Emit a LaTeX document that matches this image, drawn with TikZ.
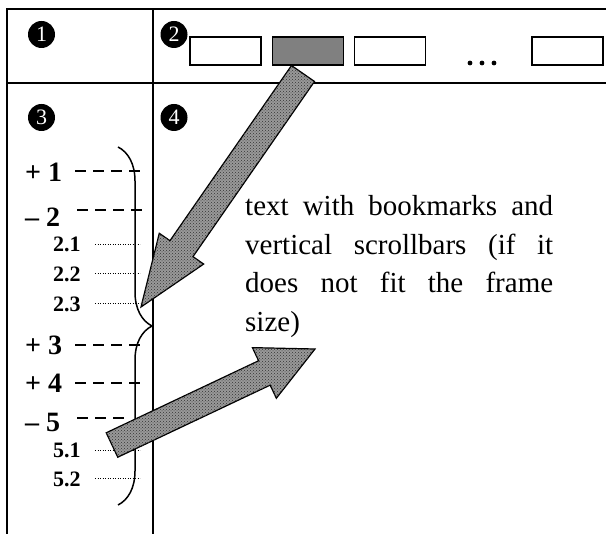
\documentclass[tikz,border=0pt]{standalone}
\usepackage{fontspec}
\setmainfont{Liberation Serif}
\usetikzlibrary{calc,patterns,decorations.pathreplacing}

\tikzset{
  frameline/.style={line width=1.5pt},
  tabbox/.style={draw, line width=1.4pt, minimum width=71pt, minimum height=28pt, inner sep=0pt},
  badge/.style={circle, fill=black, text=white, inner sep=0pt, minimum size=27pt,
                font=\fontsize{22}{22}\selectfont},
  biglabel/.style={anchor=base west, inner sep=0pt, font=\fontsize{28}{28}\selectfont\bfseries},
  smalllabel/.style={anchor=base west, inner sep=0pt, font=\fontsize{22}{22}\selectfont\bfseries},
  bodyline/.style={anchor=base west, inner sep=0pt, font=\fontsize{29}{38}\selectfont},
  leader/.style={line width=2.4pt, dash pattern=on 11pt off 7pt},
  dotleader/.style={line width=0.9pt, dash pattern=on 0.9pt off 1.6pt},
  blockarrow/.style={draw, line width=1.2pt, line join=miter, fill=black!40,
                     postaction={pattern=crosshatch dots, pattern color=black!80}},
}

% block arrow from tail #1 to tip #2; shaft half width #3, head half width #4, head length #5
\newcommand{\blockarrowpath}[5]{%
  \path[blockarrow]
    ($(#1)!#3!90:(#2)$) --
    ($($(#2)!#5!(#1)$)!#3!90:(#2)$) --
    ($($(#2)!#5!(#1)$)!#4!90:(#2)$) --
    (#2) --
    ($($(#2)!#5!(#1)$)!#4!-90:(#2)$) --
    ($($(#2)!#5!(#1)$)!#3!-90:(#2)$) --
    ($(#1)!#3!-90:(#2)$) -- cycle;}

\begin{document}
\begin{tikzpicture}[x=1pt,y=-1pt]
\useasboundingbox (0,0) rectangle (606,534);

% frame grid
\coordinate (tl) at (7,9);
\coordinate (tr) at (606,9);
\coordinate (ml) at (7,83);
\coordinate (mr) at (606,83);
\coordinate (bl) at (7,534);
\coordinate (dt) at (153,9);
\coordinate (db) at (153,534);
\draw[frameline] (tr) -- (tl) -- (bl);
\draw[frameline] (ml) -- (mr);
\draw[frameline] (dt) -- (db);

% tab bar
\node[tabbox] (tab1) at (225.5,51) {};
\node[tabbox, fill=gray] (tab2) at (308,51) {};
\node[tabbox] (tab3) at (390,51) {};
\node[tabbox] (tab4) at (567.5,51) {};
\fill (470,63) circle (2.4) (482,63) circle (2.4) (494,63) circle (2.4);

% numbered badges
\node[badge] (b1) at (41.5,34.5) {1};
\node[badge] (b2) at (174,34.5) {2};
\node[badge] (b3) at (41.5,117.5) {3};
\node[badge] (b4) at (174,117.5) {4};

% bookmark tree
\node[biglabel] (l1) at (25,182) {+ 1};
\node[biglabel] (l2) at (25,227) {– 2};
\node[smalllabel] (l21) at (53,252) {2.1};
\node[smalllabel] (l22) at (53,282) {2.2};
\node[smalllabel] (l23) at (53,312) {2.3};
\node[biglabel] (l3) at (25,355) {+ 3};
\node[biglabel] (l4) at (25,393) {+ 4};
\node[biglabel] (l5) at (25,432) {– 5};
\node[smalllabel] (l51) at (53,458) {5.1};
\node[smalllabel] (l52) at (53,487) {5.2};

\draw[leader] (75,171) -- (142,171);
\draw[leader] (77,210) -- (144,210);
\draw[leader] (75,345) -- (142,345);
\draw[leader] (75,383) -- (142,383);
\draw[leader] (77,418) -- (125,418);
\draw[dotleader] (95,244) -- (140,244);
\draw[dotleader] (95,273) -- (140,273);
\draw[dotleader] (95,303) -- (140,303);
\draw[dotleader] (95,450) -- (140,450);
\draw[dotleader] (95,478) -- (140,478);

% brace grouping the bookmarks
\coordinate (brtop) at (118,147);
\coordinate (brbot) at (118,505);
\draw[line width=1.5pt, decorate, decoration={brace, amplitude=34pt}] (brtop) -- (brbot);

% frame text
\node[bodyline] (t1) at (245,216) {\makebox[308pt][s]{text with bookmarks and}};
\node[bodyline] (t2) at (245,255) {\makebox[308pt][s]{vertical scrollbars (if it}};
\node[bodyline] (t3) at (245,293) {\makebox[308pt][s]{does not fit the frame}};
\node[bodyline] (t4) at (245,332) {size)};

% arrows
\coordinate (a1tail) at (303,73.5);
\coordinate (a1tip) at (141,307);
\blockarrowpath{a1tail}{a1tip}{14pt}{27pt}{71pt}
\coordinate (a2tail) at (112,445);
\coordinate (a2tip) at (315,349);
\blockarrowpath{a2tail}{a2tip}{13.5pt}{28pt}{56pt}
\end{tikzpicture}
\end{document}
